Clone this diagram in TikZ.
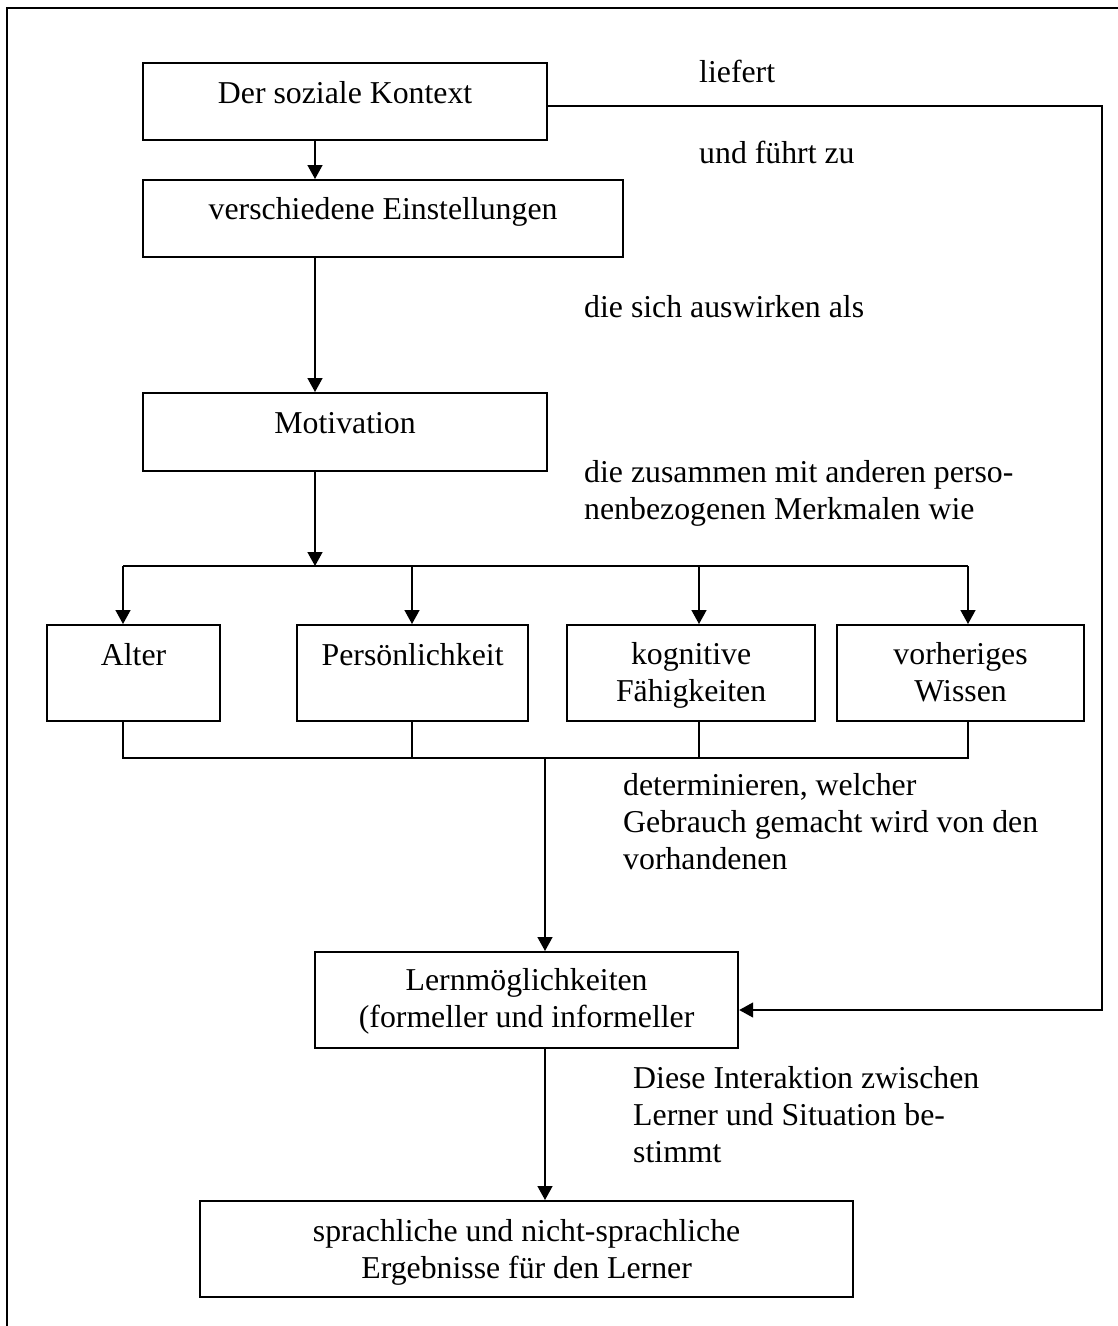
\documentclass[tikz,border=0pt]{standalone}
\usepackage{fontspec}
\setmainfont{Liberation Serif}
\usetikzlibrary{arrows.meta}
\begin{document}
\begin{tikzpicture}[x=1pt,y=-1pt,
  every node/.style={font=\fontsize{31.8}{37}\selectfont},
  box/.style={draw, line width=2.2pt, inner sep=0pt, align=center, anchor=north west},
  lbl/.style={inner sep=0pt, align=left, anchor=base west},
  conn/.style={line width=1.5pt},
  arr/.style={conn, -{Triangle[length=14pt,width=15pt]}}
]
\useasboundingbox (0,0) rectangle (1118,1326);
\draw[line width=2.4pt] (7,1330) -- (7,8) -- (1122,8);

% boxes
\node[box, minimum width=404pt, text height=40pt, text depth=37pt] (kontext) at (142,62) {Der soziale Kontext};
\node[box, minimum width=480pt, text height=39pt, text depth=38pt] (einst) at (142,179) {verschiedene Einstellungen};
\node[box, minimum width=404pt, text height=40pt, text depth=38pt] (motiv) at (142,392) {Motivation};
\node[box, minimum width=173pt, text height=40pt, text depth=56pt] (alter) at (46,624) {Alter};
\node[box, minimum width=231pt, text height=40pt, text depth=56pt] (pers) at (296,624) {Persönlichkeit};
\node[box, minimum width=248pt, text height=76pt, text depth=20pt] (kog) at (566,624) {kognitive\\Fähigkeiten};
\node[box, minimum width=247pt, text height=76pt, text depth=20pt] (vorh) at (836,624) {vorheriges\\Wissen};
\node[box, minimum width=423pt, text height=75pt, text depth=21pt] (lern) at (314,951) {Lernmöglichkeiten\\(formeller und informeller};
\node[box, minimum width=653pt, text height=77pt, text depth=19pt] (sprach) at (199,1200) {sprachliche und nicht-sprachliche\\Ergebnisse für den Lerner};

% coordinates
\coordinate (b1) at (315,566);
\coordinate (ta) at (123,566);
\coordinate (tp) at (412,566);
\coordinate (tk) at (699,566);
\coordinate (tv) at (968,566);
\coordinate (ua) at (123,758);
\coordinate (up) at (412,758);
\coordinate (uk) at (699,758);
\coordinate (uv) at (968,758);
\coordinate (m) at (545,758);
\coordinate (r1) at (1102,106);
\coordinate (r2) at (1102,1010);

% connectors
\draw[arr] (kontext.south -| b1) -- (einst.north -| b1);
\draw[arr] (einst.south -| b1) -- (motiv.north -| b1);
\draw[arr] (motiv.south -| b1) -- (b1);
\draw[conn] (ta) -- (tv);
\draw[arr] (ta) -- (alter.north -| ta);
\draw[arr] (tp) -- (pers.north -| tp);
\draw[arr] (tk) -- (kog.north -| tk);
\draw[arr] (tv) -- (vorh.north -| tv);
\draw[conn] (alter.south -| ua) -- (ua) -- (uv) -- (vorh.south -| uv);
\draw[conn] (pers.south -| up) -- (up);
\draw[conn] (kog.south -| uk) -- (uk);
\draw[arr] (m) -- (lern.north -| m);
\draw[arr] (lern.south -| m) -- (sprach.north -| m);
\draw[arr] (kontext.east |- r1) -- (r1) -- (r2) -- (lern.east |- r2);

% labels (anchor = baseline of last line)
\node[lbl] (t1) at (699,82) {liefert};
\node[lbl] (t2) at (699,163) {und führt zu};
\node[lbl] (t3) at (584,317) {die sich auswirken als};
\node[lbl] (t4) at (584,519) {die zusammen mit anderen perso-\\nenbezogenen Merkmalen wie};
\node[lbl] (t5) at (623,869) {determinieren, welcher\\Gebrauch gemacht wird von den\\vorhandenen};
\node[lbl] (t6) at (633,1162) {Diese Interaktion zwischen\\Lerner und Situation be-\\stimmt};
\end{tikzpicture}
\end{document}
